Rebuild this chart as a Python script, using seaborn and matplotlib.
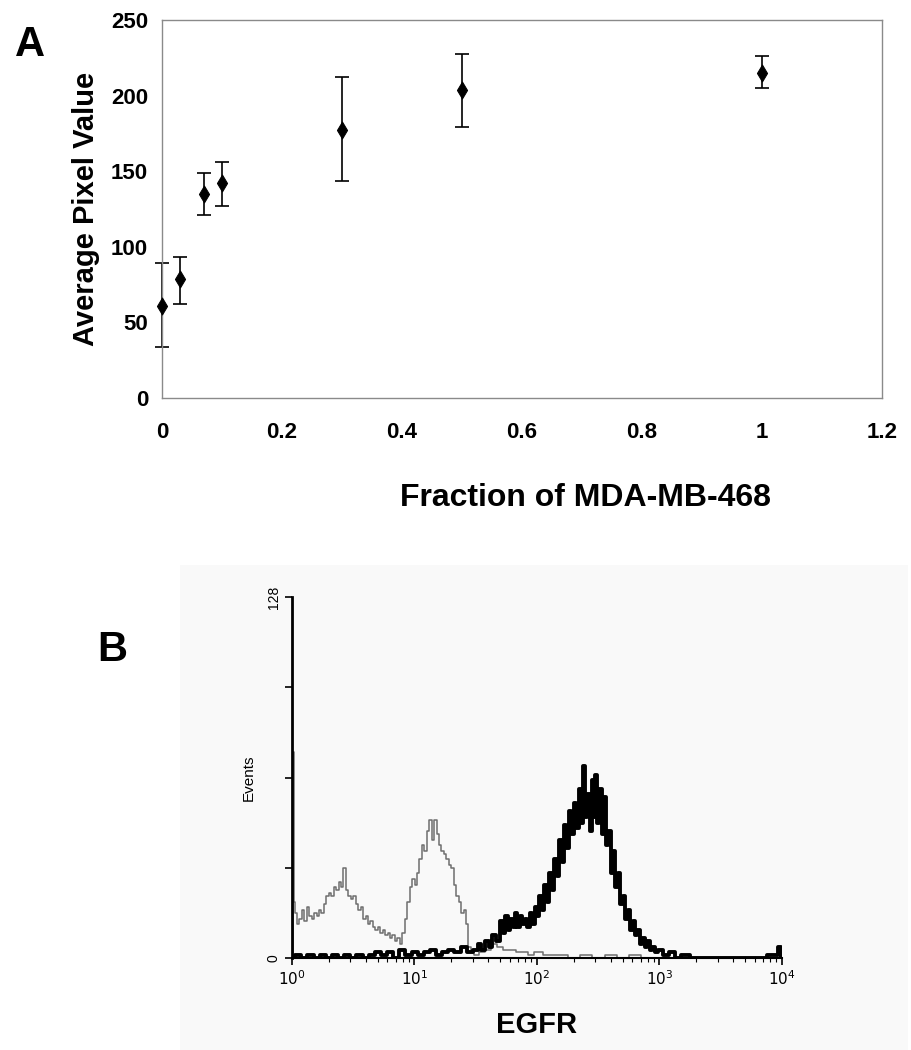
"""
Two-panel figure: (A) average pixel value vs fraction of MDA-MB-468 cells,
(B) EGFR flow cytometry histogram.
"""
import matplotlib
matplotlib.use("Agg")
import matplotlib.pyplot as plt
import matplotlib.ticker as mticker
import numpy as np
import pandas as pd
import seaborn as sns

# ---- panel A data ----
fraction = [0.0, 0.03, 0.07, 0.1, 0.3, 0.5, 1.0]
pixel_mean = [61, 78.5, 135, 142, 177, 203.5, 215]
pixel_low = [33.5, 62, 121, 127, 143.5, 179, 205]
pixel_high = [89, 93.5, 148.5, 156, 212.5, 227.5, 226]

# ---- panel B data (log10 of EGFR intensity, events) ----
ctrl_log = [0.00, 0.012, 0.02, 0.03, 0.05, 0.07, 0.09, 0.11, 0.13, 0.15, 0.17, 0.19,
            0.21, 0.23, 0.25, 0.27, 0.29, 0.31, 0.33, 0.35, 0.37, 0.39, 0.41, 0.43,
            0.45, 0.47, 0.49, 0.51, 0.53, 0.55, 0.57, 0.59, 0.61, 0.63, 0.65, 0.67,
            0.69, 0.71, 0.73, 0.75, 0.77, 0.79, 0.81, 0.83, 0.85, 0.87, 0.89, 0.91,
            0.93, 0.95, 0.97, 0.99, 1.01, 1.03, 1.05, 1.07, 1.09, 1.11, 1.13, 1.15,
            1.17, 1.19, 1.21, 1.23, 1.25, 1.27, 1.29, 1.31, 1.33, 1.35, 1.37, 1.39,
            1.41, 1.43, 1.45, 1.47, 1.50, 1.55, 1.60, 1.65, 1.70, 1.75, 1.80, 1.85,
            1.90, 1.95, 2.00, 2.10, 2.20, 2.30, 2.40, 2.50, 2.60, 2.70, 2.80, 2.90,
            3.00, 4.00]
ctrl_events = [0, 73, 20, 16, 12, 14, 17, 13, 18, 15, 14, 16,
               15, 17, 16, 19, 22, 23, 22, 25, 24, 27, 25, 32,
               24, 22, 21, 22, 19, 17, 18, 14, 15, 12, 13, 11,
               10, 11, 9, 10, 8, 9, 7, 8, 6, 7, 5, 9,
               14, 20, 25, 28, 26, 30, 35, 40, 38, 45, 49, 42,
               49, 44, 40, 38, 37, 35, 33, 32, 26, 22, 20, 16,
               17, 12, 4, 2, 1, 2, 3, 5, 4, 3, 3, 2,
               2, 1, 2, 1, 1, 0, 1, 0, 1, 0, 1, 0,
               0, 0]

egfr_log = [0.00, 0.05, 0.10, 0.15, 0.20, 0.25, 0.30, 0.35, 0.40, 0.45, 0.50, 0.55,
            0.60, 0.65, 0.70, 0.75, 0.80, 0.85, 0.90, 0.95, 1.00, 1.05, 1.10, 1.15,
            1.20, 1.25, 1.30, 1.35, 1.40, 1.45, 1.50, 1.53, 1.56, 1.59, 1.62, 1.65,
            1.68, 1.71, 1.73, 1.75, 1.77, 1.79, 1.81, 1.83, 1.85, 1.87, 1.89, 1.91,
            1.93, 1.95, 1.97, 1.99, 2.01, 2.03, 2.05, 2.07, 2.09, 2.11, 2.13, 2.15,
            2.17, 2.19, 2.21, 2.23, 2.25, 2.27, 2.29, 2.31, 2.33, 2.35, 2.37, 2.38,
            2.40, 2.42, 2.44, 2.45, 2.47, 2.48, 2.50, 2.52, 2.54, 2.56, 2.57, 2.59,
            2.61, 2.63, 2.65, 2.67, 2.69, 2.71, 2.73, 2.75, 2.77, 2.79, 2.81, 2.83,
            2.85, 2.87, 2.89, 2.91, 2.93, 2.95, 2.97, 3.00, 3.05, 3.10, 3.15, 3.20,
            3.30, 3.50, 3.80, 3.95, 3.99, 4.00]
egfr_events = [0, 1, 0, 1, 0, 1, 0, 1, 0, 1, 0, 1,
               0, 1, 2, 1, 2, 0, 3, 1, 2, 1, 2, 3,
               1, 2, 3, 2, 4, 2, 3, 5, 3, 6, 4, 8,
               6, 13, 9, 15, 10, 14, 11, 16, 11, 15, 12, 14,
               11, 16, 12, 18, 15, 22, 17, 26, 20, 30, 24, 35,
               29, 42, 34, 47, 39, 52, 44, 55, 46, 60, 48, 68,
               50, 58, 45, 63, 50, 65, 48, 60, 44, 57, 40, 45,
               30, 38, 25, 30, 19, 22, 14, 17, 10, 13, 8, 10,
               5, 7, 4, 6, 3, 4, 2, 3, 1, 2, 0, 1,
               0, 0, 0, 1, 4, 0]

sns.set_theme(style="white")
plt.rcParams["font.family"] = ["Liberation Sans", "DejaVu Sans"]
plt.rcParams["text.color"] = "black"
plt.rcParams["axes.labelcolor"] = "black"
plt.rcParams["xtick.labelcolor"] = "black"
plt.rcParams["ytick.labelcolor"] = "black"

W, H = 912, 1050
fig = plt.figure(figsize=(W / 100, H / 100), dpi=100)
fig.patch.set_facecolor("white")

# faint scanned background behind panel B
bg = fig.add_axes([180 / W, 0, 728 / W, 485 / H], zorder=-5)
bg.set_facecolor("#f9f9f9")
bg.set_axis_off()
bg.add_patch(plt.Rectangle((0, 0), 1, 1, transform=bg.transAxes,
                           facecolor="#f9f9f9", edgecolor="none"))

# ---------------- panel A ----------------
axA = fig.add_axes([162 / W, 1 - 398 / H, 720 / W, 378 / H])
dfA = pd.DataFrame({"fraction": fraction, "mean": pixel_mean})
yerr = [np.array(pixel_mean) - np.array(pixel_low), np.array(pixel_high) - np.array(pixel_mean)]
axA.errorbar(fraction, pixel_mean, yerr=yerr, fmt="none", ecolor="black",
             elinewidth=1.2, capsize=5, capthick=1.2, zorder=2, clip_on=False)
sns.scatterplot(data=dfA, x="fraction", y="mean", marker="d", s=75, color="black",
                edgecolor="black", ax=axA, zorder=3, clip_on=False)
axA.set_xlim(0, 1.2)
axA.set_ylim(0, 250)
axA.set_xticks([0, 0.2, 0.4, 0.6, 0.8, 1.0, 1.2])
axA.set_xticklabels(["0", "0.2", "0.4", "0.6", "0.8", "1", "1.2"])
axA.set_yticks([0, 50, 100, 150, 200, 250])
for s in axA.spines.values():
    s.set_color("#8a8a8a")
    s.set_linewidth(1.0)
axA.tick_params(axis="both", direction="out", length=5, width=1, color="#8a8a8a",
                labelsize=16, pad=5)
for lab in axA.get_xticklabels() + axA.get_yticklabels():
    lab.set_fontweight("bold")
axA.tick_params(axis="x", pad=12)
axA.set_xlabel("")
axA.set_ylabel("Average Pixel Value", fontsize=21, fontweight="bold", labelpad=8)
fig.text(586 / W, 1 - 498 / H, "Fraction of MDA-MB-468", fontsize=23, fontweight="bold",
         ha="center", va="center")
fig.text(30 / W, 1 - 45 / H, "A", fontsize=30, fontweight="bold", ha="center", va="center")

# ---------------- panel B ----------------
axB = fig.add_axes([292 / W, 1 - 958 / H, 490 / W, 361 / H])
axB.set_facecolor("none")
dfC = pd.DataFrame({"egfr": 10 ** np.array(ctrl_log), "events": ctrl_events})
dfE = pd.DataFrame({"egfr": 10 ** np.array(egfr_log), "events": egfr_events})
sns.lineplot(data=dfC, x="egfr", y="events", color="#6e6e6e", linewidth=1.1,
             drawstyle="steps-mid", ax=axB, zorder=2)
sns.lineplot(data=dfE, x="egfr", y="events", color="black", linewidth=2.8,
             drawstyle="steps-mid", ax=axB, zorder=3)
axB.set_xscale("log")
axB.set_xlim(1, 1e4)
axB.set_ylim(0, 128)
axB.spines["top"].set_visible(False)
axB.spines["right"].set_visible(False)
axB.spines["left"].set_color("black")
axB.spines["left"].set_linewidth(2.0)
axB.spines["bottom"].set_color("black")
axB.spines["bottom"].set_linewidth(1.5)
axB.set_yticks([0, 32, 64, 96, 128])
axB.set_yticklabels(["0", "", "", "", "128"], rotation=90, va="center")
axB.xaxis.set_major_locator(mticker.FixedLocator([1, 10, 100, 1000, 10000]))
axB.set_xticklabels(["$10^0$", "$10^1$", "$10^2$", "$10^3$", "$10^4$"])
axB.xaxis.set_minor_locator(mticker.LogLocator(base=10, subs=np.arange(2, 10), numticks=20))
axB.xaxis.set_minor_formatter(mticker.NullFormatter())
axB.tick_params(axis="y", direction="out", length=5, width=1.2, color="black",
                labelsize=10, pad=3, left=True)
axB.tick_params(axis="x", which="major", direction="out", length=5, width=1.2,
                color="black", labelsize=11, pad=3, bottom=True)
axB.tick_params(axis="x", which="minor", direction="out", length=3, width=0.8,
                color="black", bottom=True)
axB.set_xlabel("")
fig.text(537 / W, 1 - 1025 / H, "EGFR", fontsize=21, fontweight="bold",
         ha="center", va="center")
axB.set_ylabel("Events", fontsize=11, labelpad=8)
fig.text(112 / W, 1 - 650 / H, "B", fontsize=30, fontweight="bold", ha="center", va="center")

fig.savefig("out.png", dpi=100, facecolor="white")
